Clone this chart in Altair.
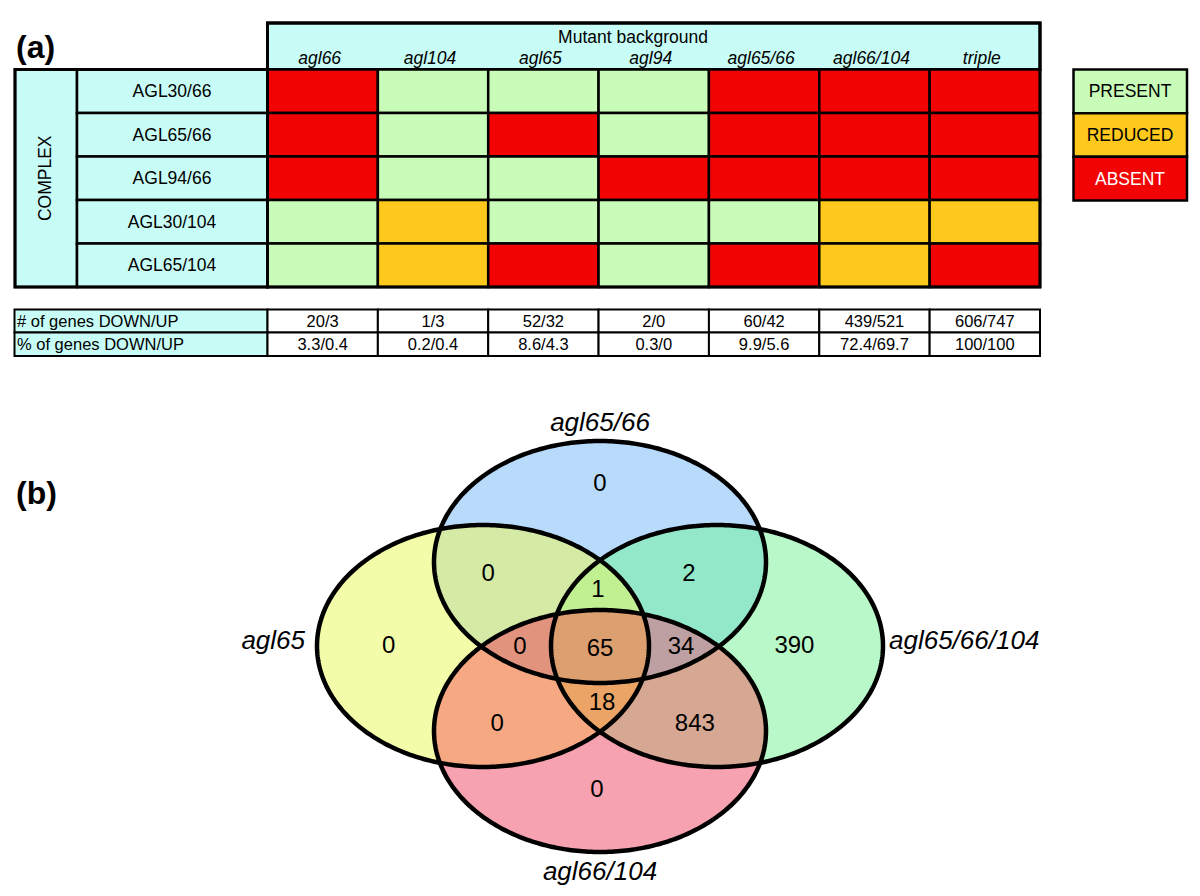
import numpy as np
import pandas as pd
import altair as alt
from itertools import combinations

# ------------------------------------------------------------------ data
mutants = ["agl66", "agl104", "agl65", "agl94", "agl65/66", "agl66/104", "triple"]
complexes = ["AGL30/66", "AGL65/66", "AGL94/66", "AGL30/104", "AGL65/104"]
status = [
    ["ABSENT", "PRESENT", "PRESENT", "PRESENT", "ABSENT", "ABSENT", "ABSENT"],
    ["ABSENT", "PRESENT", "ABSENT", "PRESENT", "ABSENT", "ABSENT", "ABSENT"],
    ["ABSENT", "PRESENT", "PRESENT", "ABSENT", "ABSENT", "ABSENT", "ABSENT"],
    ["PRESENT", "REDUCED", "PRESENT", "PRESENT", "PRESENT", "REDUCED", "REDUCED"],
    ["PRESENT", "REDUCED", "ABSENT", "PRESENT", "ABSENT", "REDUCED", "ABSENT"],
]
legend_levels = ["PRESENT", "REDUCED", "ABSENT"]
count_rows = ["# of genes DOWN/UP", "% of genes DOWN/UP"]
genes_count = ["20/3", "1/3", "52/32", "2/0", "60/42", "439/521", "606/747"]
genes_pct = ["3.3/0.4", "0.2/0.4", "8.6/4.3", "0.3/0", "9.9/5.6", "72.4/69.7", "100/100"]

# Venn: sets T(top), L(left), R(right), B(bottom)
venn_names = {"T": "agl65/66", "L": "agl65", "R": "agl65/66/104", "B": "agl66/104"}
venn_regions = ["T", "TL", "TR", "TLR", "L", "TLB", "TLRB", "TRB", "R", "LRB", "LB", "RB", "B"]
venn_counts = [0, 0, 2, 1, 0, 0, 65, 34, 390, 18, 0, 843, 0]

# ------------------------------------------------------------------ style / layout
FONT = "Liberation Sans"
CYAN = "#c8fcf7"
status_fill = {"PRESENT": "#c8fcb8", "REDUCED": "#fec91c", "ABSENT": "#f20404"}
legend_text_color = {"PRESENT": "black", "REDUCED": "black", "ABSENT": "white"}
region_fill = {
    "T": "#b9dbfb", "L": "#f3fca9", "R": "#b9f9c9", "B": "#f7a2b1",
    "TL": "#d4eaa5", "TR": "#92e8c9", "LB": "#f6a882", "RB": "#d6a893",
    "LR": "#d0f0a0", "TB": "#d8b0c0",
    "TLR": "#c0f091", "TLB": "#e2937e", "TRB": "#bfa0a2", "LRB": "#eba466",
    "TLRB": "#dc9f6f",
}
ELL = {  # cx, cy, rx, ry  (page pixels)
    "T": (600, 562, 166, 121),
    "L": (483, 646, 166, 121),
    "R": (717, 646, 166, 121),
    "B": (600, 731, 166, 121),
}
# label nudges from each region's centroid (layout only)
label_nudge = {
    "T": (0, -12), "TL": (-16, -2), "TR": (-7, -2), "TLR": (-2, -3),
    "L": (-4, 0), "TLB": (-7, 0), "TLRB": (0, 3), "TRB": (8, 0), "R": (-13, 0),
    "LRB": (2, 3), "LB": (-7, 8), "RB": (-1, 8), "B": (-3, -7),
}
W, H = 1184, 880
xs = alt.Scale(domain=[8, 8 + W], nice=False, zero=False)
ys = alt.Scale(domain=[8, 8 + H], nice=False, zero=False, reverse=True)


def X(f="x"):
    return alt.X(f"{f}:Q", scale=xs, axis=None)


def Y(f="y"):
    return alt.Y(f"{f}:Q", scale=ys, axis=None)


def rect_layer(df, sw=2.0):
    return alt.Chart(df).mark_rect(stroke="black", strokeWidth=sw).encode(
        x=X("x"), x2="x2:Q", y=Y("y"), y2="y2:Q",
        color=alt.Color("fill:N", scale=None))


def text_layer(df, size, align="center", baseline="middle", style="normal",
               weight="normal", angle=None):
    kw = dict(font=FONT, fontSize=size, align=align, baseline=baseline,
              fontStyle=style, fontWeight=weight)
    if angle is not None:
        kw["angle"] = angle
    enc = dict(x=X("x"), y=Y("y"), text="label:N")
    if "tcolor" in df.columns:
        enc["color"] = alt.Color("tcolor:N", scale=None)
    else:
        kw["color"] = "black"
    return alt.Chart(df).mark_text(**kw).encode(**enc)


layers = []

# ------------------------------------------------------------------ panel (a)
col_e = np.linspace(267.5, 1040, len(mutants) + 1)
row_e = np.linspace(69.5, 287, len(complexes) + 1)
col_c = (col_e[:-1] + col_e[1:]) / 2
row_c = (row_e[:-1] + row_e[1:]) / 2

header = pd.DataFrame([{"x": col_e[0], "x2": col_e[-1], "y": 23, "y2": row_e[0], "fill": CYAN}])
layers.append(rect_layer(header, 3))

side = [{"x": 15, "x2": 77, "y": row_e[0], "y2": row_e[-1], "fill": CYAN}]
for i in range(len(complexes)):
    side.append({"x": 77, "x2": col_e[0], "y": row_e[i], "y2": row_e[i + 1], "fill": CYAN})
layers.append(rect_layer(pd.DataFrame(side), 2.5))

cells = []
for i, cpx in enumerate(complexes):
    for j, m in enumerate(mutants):
        cells.append({"x": col_e[j], "x2": col_e[j + 1], "y": row_e[i], "y2": row_e[i + 1],
                      "fill": status_fill[status[i][j]]})
layers.append(rect_layer(pd.DataFrame(cells), 2.5))
layers.append(alt.Chart(pd.DataFrame([{"x": col_e[0], "x2": col_e[-1], "y": 23, "y2": row_e[-1]}]))
              .mark_rect(fill="transparent", stroke="black", strokeWidth=3)
              .encode(x=X("x"), x2="x2:Q", y=Y("y"), y2="y2:Q"))
layers.append(alt.Chart(pd.DataFrame([{"x": 15, "x2": col_e[0], "y": row_e[0], "y2": row_e[-1]}]))
              .mark_rect(fill="transparent", stroke="black", strokeWidth=3)
              .encode(x=X("x"), x2="x2:Q", y=Y("y"), y2="y2:Q"))

# legend
leg_e = np.linspace(69.5, 200.5, len(legend_levels) + 1)
leg = [{"x": 1073.5, "x2": 1187, "y": leg_e[k], "y2": leg_e[k + 1], "fill": status_fill[s]}
       for k, s in enumerate(legend_levels)]
layers.append(rect_layer(pd.DataFrame(leg), 2.5))
layers.append(text_layer(pd.DataFrame(
    [{"x": 1130, "y": (leg_e[k] + leg_e[k + 1]) / 2 + 1, "label": s, "tcolor": legend_text_color[s]}
     for k, s in enumerate(legend_levels)]), 17.5))

# texts panel (a)
layers.append(text_layer(pd.DataFrame([{"x": 16, "y": 58, "label": "(a)"},
                                       {"x": 16, "y": 504, "label": "(b)"}]),
                         32, align="left", baseline="alphabetic", weight="bold"))
layers.append(text_layer(pd.DataFrame([{"x": 633, "y": 42.5, "label": "Mutant background"}]),
                         17.5, baseline="alphabetic"))
layers.append(text_layer(pd.DataFrame({"x": col_c - 3, "y": 63.5, "label": mutants}),
                         17.5, baseline="alphabetic", style="italic"))
layers.append(text_layer(pd.DataFrame({"x": 172, "y": row_c + 1, "label": complexes}), 17.5))
layers.append(text_layer(pd.DataFrame([{"x": 46, "y": row_c.mean(), "label": "COMPLEX"}]), 17.5, angle=270))

# bottom table
tr_e = [309.5, 332.5, 356]
trows = []
for r in range(2):
    trows.append({"x": 14.5, "x2": col_e[0], "y": tr_e[r], "y2": tr_e[r + 1], "fill": CYAN})
    for j in range(len(mutants)):
        trows.append({"x": col_e[j], "x2": col_e[j + 1], "y": tr_e[r], "y2": tr_e[r + 1], "fill": "white"})
layers.append(rect_layer(pd.DataFrame(trows), 2))
tr_c = [(tr_e[0] + tr_e[1]) / 2 + 0.5, (tr_e[1] + tr_e[2]) / 2 + 0.5]
layers.append(text_layer(pd.DataFrame({"x": 17, "y": tr_c, "label": count_rows}), 16.5, align="left"))
vals = [{"x": col_c[j], "y": tr_c[0], "label": genes_count[j]} for j in range(len(mutants))] + \
       [{"x": col_c[j], "y": tr_c[1], "label": genes_pct[j]} for j in range(len(mutants))]
layers.append(text_layer(pd.DataFrame(vals), 16.5))

# ------------------------------------------------------------------ panel (b) Venn
def ell_bounds(k, x):
    cx, cy, rx, ry = ELL[k]
    u = (x - cx) / rx
    h = ry * np.sqrt(np.clip(1 - u * u, 0, None))
    return cy - h, cy + h, np.abs(u) <= 1


def shape_rows(keys, n=260):
    grid = np.arange(280, 920, 0.05)
    lo = np.full_like(grid, -1e9)
    hi = np.full_like(grid, 1e9)
    ok = np.ones(grid.shape, bool)
    for k in keys:
        l, h_, ins = ell_bounds(k, grid)
        lo, hi, ok = np.maximum(lo, l), np.minimum(hi, h_), ok & ins
    ok &= lo < hi
    if not ok.any():
        return []
    idx = np.where(ok)[0]
    xa, xb = grid[idx[0]], grid[idx[-1]]
    t = np.linspace(0, np.pi, n)
    xv = (xa + xb) / 2 - (xb - xa) / 2 * np.cos(t)
    lo = np.full_like(xv, -1e9)
    hi = np.full_like(xv, 1e9)
    for k in keys:
        l, h_, _ = ell_bounds(k, xv)
        lo, hi = np.maximum(lo, l), np.minimum(hi, h_)
    mid = (lo + hi) / 2
    bad = lo > hi
    lo[bad] = mid[bad]
    hi[bad] = mid[bad]
    rid = "".join(keys)
    return [{"rid": rid, "x": float(a), "y": float(b), "y2": float(c), "fill": region_fill[rid]}
            for a, b, c in zip(xv, lo, hi)]


order = "TLRB"
for lvl in range(1, 5):
    rows = []
    for combo in combinations(order, lvl):
        rows += shape_rows(list(combo))
    if rows:
        layers.append(alt.Chart(pd.DataFrame(rows)).mark_area(strokeWidth=0).encode(
            x=X("x"), y=Y("y"), y2="y2:Q", detail="rid:N",
            color=alt.Color("fill:N", scale=None)))

# outlines
outl = []
tt = np.linspace(0, 2 * np.pi, 361)
for k, (cx, cy, rx, ry) in ELL.items():
    for i, t in enumerate(tt):
        outl.append({"set": k, "i": i, "x": cx + rx * np.cos(t), "y": cy + ry * np.sin(t)})
layers.append(alt.Chart(pd.DataFrame(outl)).mark_line(
    color="black", strokeWidth=4.5, strokeJoin="round", strokeCap="round").encode(
    x=X("x"), y=Y("y"), detail="set:N", order="i:Q"))

# region labels at region centroids (+ small layout nudges)
gx, gy = np.meshgrid(np.arange(300, 900, 1.0), np.arange(420, 880, 1.0))
inside = {k: ((gx - cx) / rx) ** 2 + ((gy - cy) / ry) ** 2 <= 1 for k, (cx, cy, rx, ry) in ELL.items()}
lab = []
for reg, cnt in zip(venn_regions, venn_counts):
    m = np.ones(gx.shape, bool)
    for k in order:
        m &= inside[k] if k in reg else ~inside[k]
    dx, dy = label_nudge.get(reg, (0, 0))
    lab.append({"x": float(gx[m].mean()) + dx, "y": float(gy[m].mean()) + dy, "label": str(cnt)})
layers.append(text_layer(pd.DataFrame(lab), 24))

# set names
cT, cL, cR, cB = ELL["T"], ELL["L"], ELL["R"], ELL["B"]
setlab = [
    {"x": cT[0], "y": cT[1] - cT[3] - 18, "label": venn_names["T"]},
    {"x": cB[0], "y": cB[1] + cB[3] + 20, "label": venn_names["B"]},
]
layers.append(text_layer(pd.DataFrame(setlab), 26, style="italic"))
layers.append(text_layer(pd.DataFrame([{"x": cL[0] - cL[2] - 12, "y": cL[1] - 5, "label": venn_names["L"]}]),
                         26, style="italic", align="right"))
layers.append(text_layer(pd.DataFrame([{"x": cR[0] + cR[2] + 6, "y": cR[1] - 5, "label": venn_names["R"]}]),
                         26, style="italic", align="left"))

chart = alt.layer(*layers).properties(
    width=W, height=H, padding=0, background="white",
    autosize=alt.AutoSizeParams(type="none")
).configure_view(strokeWidth=0)

chart.save("out.html", embed_options={"renderer": "svg", "actions": False})
